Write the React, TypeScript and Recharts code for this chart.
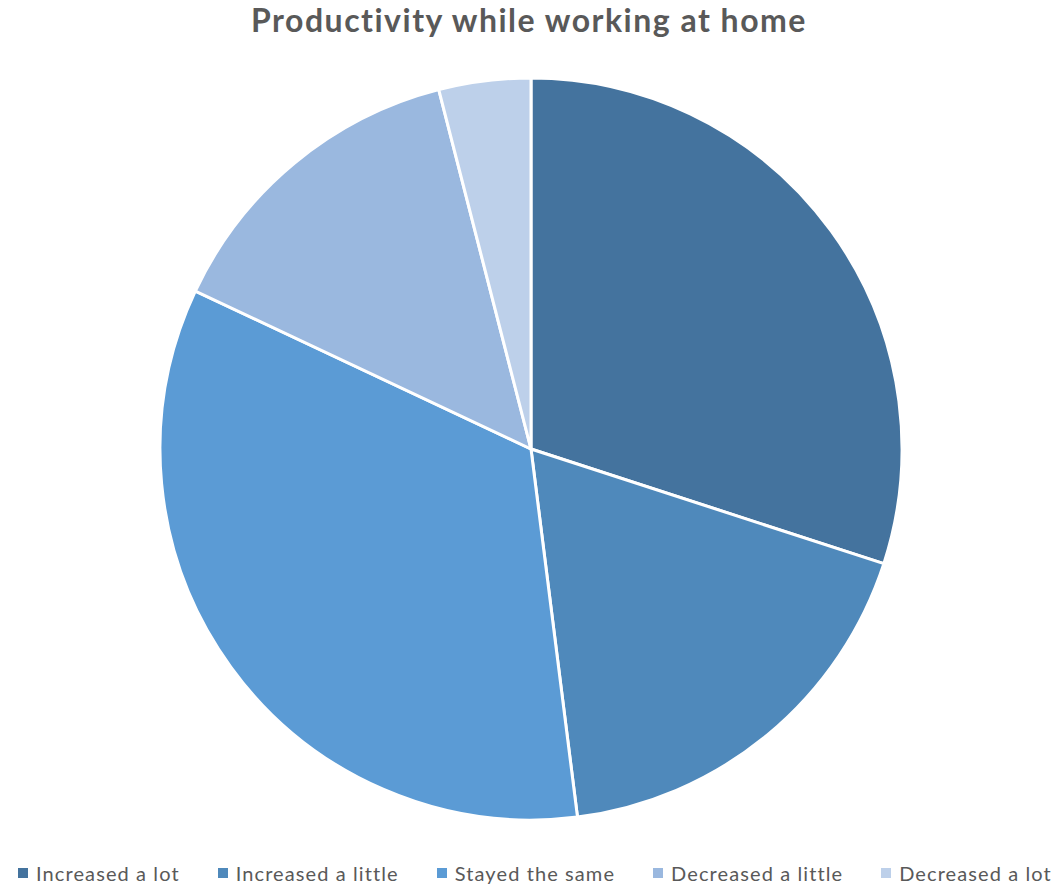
import { PieChart, Pie, Cell } from 'recharts'

const categories = ['Increased a lot', 'Increased a little', 'Stayed the same', 'Decreased a little', 'Decreased a lot']
const shares = [30, 18, 34, 14, 4]
const colors = ['#44739e', '#4f89bb', '#5b9bd5', '#9ab8df', '#bdd0ea']

const data = categories.map((name, i) => ({ name, value: shares[i] }))

const FONT = "Lato, 'Open Sans', sans-serif"

function LegendRow() {
  return (
    <div style={{
      position: 'absolute', left: 18, top: 861, display: 'flex', gap: 38, whiteSpace: 'nowrap',
    }}>
      {categories.map((c, i) => (
        <div key={c} style={{ display: 'flex', alignItems: 'center' }}>
          <span style={{ width: 10, height: 10, background: colors[i], marginRight: 8, display: 'inline-block' }} />
          <span style={{ fontFamily: FONT, fontSize: 20, color: '#595959', letterSpacing: 1.1 }}>{c}</span>
        </div>
      ))}
    </div>
  )
}

export default function App() {
  return (
    <div style={{ position: 'absolute', left: 0, top: 0, width: 1058, height: 884, background: '#fff', overflow: 'hidden' }}>
      <div style={{
        position: 'absolute', left: 0, top: 0, width: 1058, textAlign: 'center',
        fontFamily: FONT, fontWeight: 700, fontSize: 32, letterSpacing: 1.5, color: '#595959',
      }}>
        Productivity while working at home
      </div>
      <PieChart width={1058} height={884} margin={{ top: 0, right: 0, bottom: 0, left: 0 }}>
        <Pie
          data={data}
          dataKey="value"
          nameKey="name"
          cx={531}
          cy={449}
          outerRadius={371}
          startAngle={90}
          endAngle={-270}
          stroke="#fff"
          strokeWidth={3}
          isAnimationActive={false}
        >
          {data.map((d, i) => <Cell key={d.name} fill={colors[i]} />)}
        </Pie>
      </PieChart>
      <LegendRow />
    </div>
  )
}
